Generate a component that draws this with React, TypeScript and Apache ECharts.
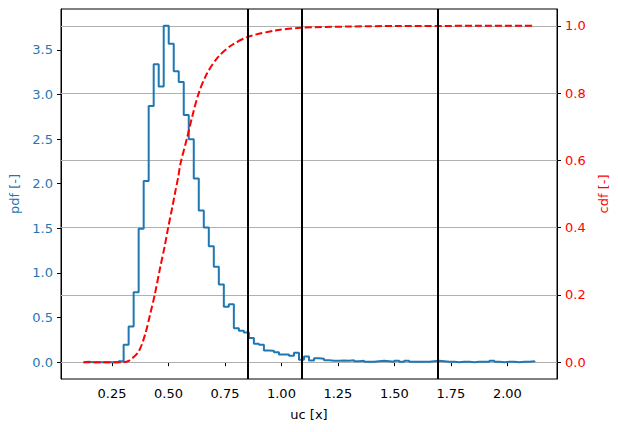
import React, { useEffect, useRef } from "react";
import * as echarts from "echarts";

// Histogram (pdf) — bin heights
const binLo = 0.124;
const binHi = 2.12;
const pdfValues = [
  0.005, 0, 0, 0, 0, 0, 0, 0.011,
  0.195, 0.4, 0.785, 1.495, 2.03, 2.87, 3.34, 3.09, 3.77, 3.57,
  3.26, 3.14, 2.77, 2.5, 2.06, 1.7, 1.51, 1.3, 1.07, 0.87,
  0.62, 0.65, 0.38, 0.352, 0.333, 0.27, 0.206, 0.195, 0.131, 0.128,
  0.112, 0.086, 0.086, 0.072, 0.105, 0.027, 0.064, 0.019, 0.045, 0.038,
  0.022, 0.016, 0.016, 0.019, 0.016, 0.022, 0.011,
  0.016, 0.005, 0.005, 0.011, 0.016, 0.011, 0.005, 0.016, 0.005, 0.016,
  0.005, 0.005, 0.005, 0.005, 0.011, 0.016, 0.011, 0.005,
  0.005, 0, 0.005, 0.005, 0, 0.005, 0.005, 0.005,
  0.016, 0.005, 0, 0.005, 0.005, 0, 0.005, 0.005, 0.011,
];

// CDF curve (red dashed)
const cdfX = [
  0.124, 0.2, 0.3, 0.324, 0.368, 0.398, 0.42, 0.439, 0.464, 0.483, 0.498,
  0.519, 0.531, 0.543, 0.553, 0.582, 0.605, 0.634, 0.671, 0.722, 0.781,
  0.855, 0.973, 1.083, 1.304, 1.525, 2.12,
];
const cdfY = [
  0, 0, 0, 0.004, 0.032, 0.086, 0.146, 0.2, 0.284, 0.344, 0.398,
  0.468, 0.51, 0.55, 0.59, 0.666, 0.73, 0.8, 0.859, 0.909, 0.943,
  0.968, 0.986, 0.994, 0.998, 0.9995, 1.0,
];

// Vertical threshold lines
const thresholds = [0.853, 1.095, 1.688];

// Tick labels
const xTicks = [0.25, 0.5, 0.75, 1.0, 1.25, 1.5, 1.75, 2.0];
const pdfTicks = [0, 0.5, 1.0, 1.5, 2.0, 2.5, 3.0, 3.5];
const cdfTicks = [0, 0.2, 0.4, 0.6, 0.8, 1.0];

const BLUE = "#1f77b4";
const RED = "#ff0000";
const FONT = "DejaVu Sans";

export default function App() {
  const ref = useRef<HTMLDivElement>(null);
  useEffect(() => {
    if (!ref.current) return;
    const chart = echarts.init(ref.current, null, { renderer: "svg" });
    const n = pdfValues.length;
    const w = (binHi - binLo) / n;
    const histData: number[][] = [[binLo, 0]];
    pdfValues.forEach((v, i) => histData.push([binLo + i * w, v]));
    histData.push([binHi, pdfValues[n - 1]]);
    histData.push([binHi, 0]);
    const cdfData = cdfX.map((x, i) => [x, cdfY[i]]);

    const span = binHi - binLo;
    const xMin = binLo - 0.05 * span;
    const xMax = binHi + 0.05 * span;
    const pMax = Math.max(...pdfValues);
    const yMin = -0.05 * pMax;
    const yMax = 1.05 * pMax;

    const tickStyle = { show: true, inside: false, length: 4, lineStyle: { color: "#000", width: 1 } };

    chart.setOption({
      animation: false,
      backgroundColor: "#fff",
      textStyle: { fontFamily: FONT },
      grid: {
        left: 61, right: 61, top: 9, bottom: 53,
        show: true, borderColor: "#000", borderWidth: 1, backgroundColor: "transparent",
      },
      xAxis: {
        type: "value", min: xMin, max: xMax,
        name: "uc [x]", nameLocation: "middle", nameGap: 29,
        nameTextStyle: { color: "#000", fontSize: 13, fontFamily: FONT },
        axisLine: { show: true, lineStyle: { color: "#000", width: 1 } },
        axisTick: { ...tickStyle, customValues: xTicks },
        axisLabel: {
          customValues: xTicks, color: "#000", fontSize: 13, fontFamily: FONT, margin: 8,
          formatter: (v: number) => v.toFixed(2),
        },
        splitLine: { show: false },
      },
      yAxis: [
        {
          type: "value", position: "left", min: yMin, max: yMax,
          name: "pdf [-]", nameLocation: "middle", nameGap: 37, nameRotate: 90,
          nameTextStyle: { color: BLUE, fontSize: 13, fontFamily: FONT },
          axisLine: { show: true, lineStyle: { color: "#000", width: 1 } },
          axisTick: { ...tickStyle, customValues: pdfTicks },
          axisLabel: {
            customValues: pdfTicks, color: BLUE, fontSize: 13, fontFamily: FONT, margin: 8,
            formatter: (v: number) => v.toFixed(1),
          },
          splitLine: { show: false },
        },
        {
          type: "value", position: "right", min: -0.05, max: 1.05,
          name: "cdf [-]", nameLocation: "middle", nameGap: 36, nameRotate: 90,
          nameTextStyle: { color: RED, fontSize: 13, fontFamily: FONT },
          axisLine: { show: true, lineStyle: { color: "#000", width: 1 } },
          axisTick: { ...tickStyle, customValues: cdfTicks },
          axisLabel: {
            customValues: cdfTicks, color: RED, fontSize: 13, fontFamily: FONT, margin: 8,
            formatter: (v: number) => v.toFixed(1),
          },
          splitLine: { show: false },
        },
      ],
      series: [
        {
          type: "line", yAxisIndex: 1, data: [], z: 1, silent: true,
          markLine: {
            z: 1, silent: true, symbol: ["none", "none"], label: { show: false },
            lineStyle: { color: "#b0b0b0", width: 1, type: "solid" },
            emphasis: { disabled: true },
            data: cdfTicks.map((v) => ({ yAxis: v })),
          },
        },
        {
          type: "line", yAxisIndex: 0, data: histData, step: "end", showSymbol: false,
          symbol: "none", z: 2, silent: true,
          lineStyle: { color: BLUE, width: 2 },
          markLine: {
            z: 5, silent: true, symbol: ["none", "none"], label: { show: false },
            lineStyle: { color: "#000", width: 2, type: "solid" },
            emphasis: { disabled: true },
            data: thresholds.map((v) => ({ xAxis: v })),
          },
        },
        {
          type: "line", yAxisIndex: 1, data: cdfData, showSymbol: false, symbol: "none",
          smooth: 0.3, z: 3, silent: true,
          lineStyle: { color: RED, width: 2, type: [7, 3] },
        },
      ],
    });
    return () => chart.dispose();
  }, []);
  return (
    <div
      ref={ref}
      style={{ position: "fixed", left: 0, top: 0, width: 618, height: 432, background: "#fff" }}
    />
  );
}
